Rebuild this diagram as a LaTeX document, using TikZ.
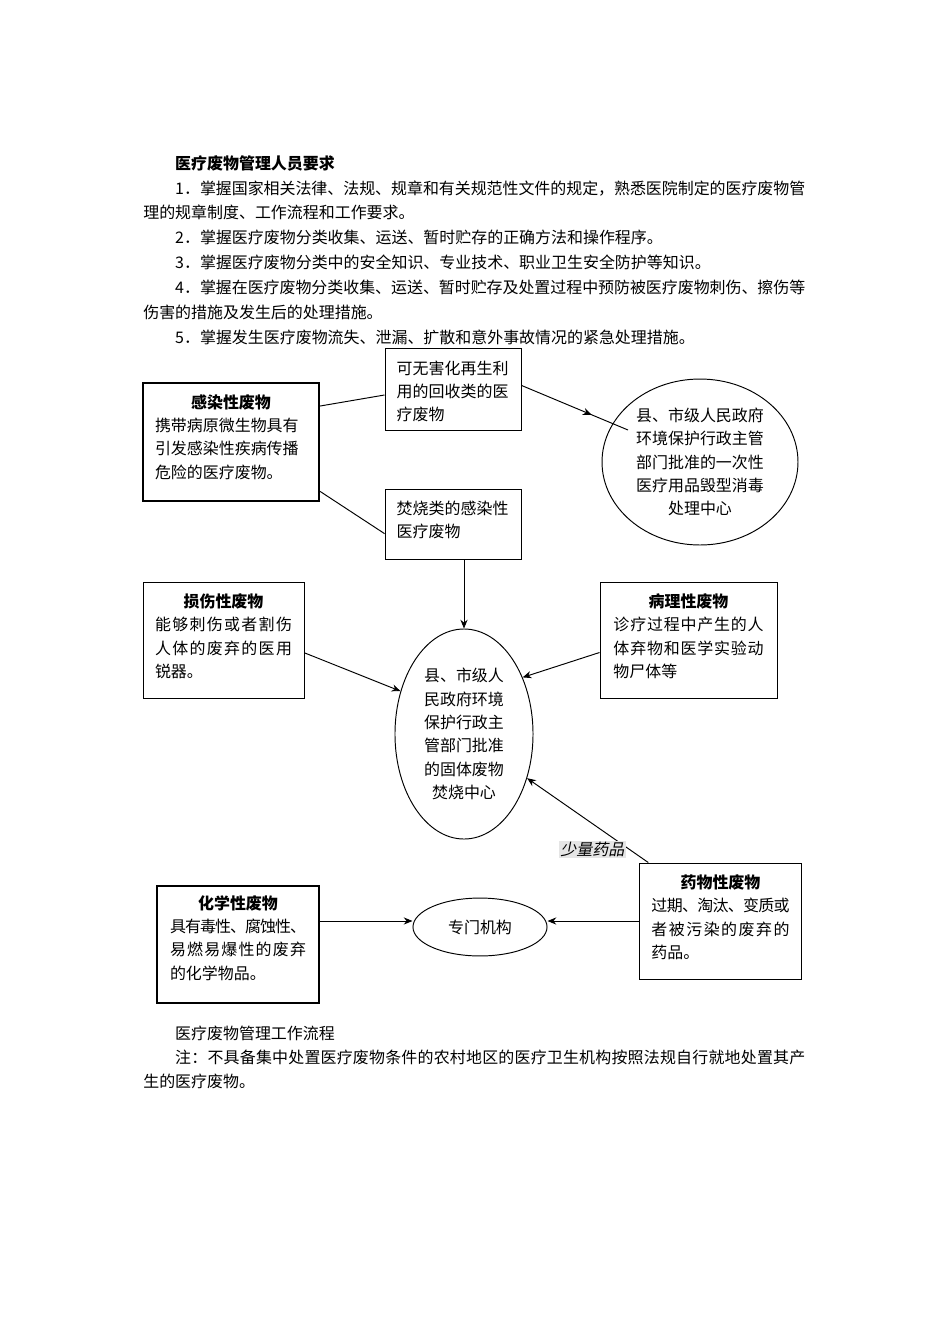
\documentclass[tikz,border=0pt]{standalone}
\usepackage{fontspec}
\setmainfont{Noto Sans CJK SC}[AutoFakeSlant=0.2]
\usetikzlibrary{positioning,shapes.geometric,arrows.meta,decorations.markings}

\newcommand\boxfont{\fontsize{10pt}{14.6pt}\selectfont}
\def\filltoks#1{\ifx\relax#1\else#1\hskip0pt plus1fil minus1pt\relax\expandafter\filltoks\fi}
\newcommand\fillline[2][\linewidth]{\leavevmode\hbox to#1{\filltoks#2\relax\unskip}}
\newcommand\lastline[1]{\makebox[\linewidth][l]{#1}}

\begin{document}
\begin{tikzpicture}[x=0.6266pt,y=-0.6266pt,font=\boxfont]

\tikzset{wbox/.style={draw, line width=0.6pt, inner sep=0pt},
         heavybox/.style={wbox, line width=1.3pt},
         btext/.style={text width=#1, align=center, inner sep=0pt},
         oval/.style={draw, ellipse, line width=0.6pt, inner sep=0pt, align=center},
         link/.style={line width=0.6pt},
         arr/.style={link, -{Stealth[length=5.5pt,width=4.5pt]}}}

\fill[white] (0,0) rectangle (950,1344);
\useasboundingbox (0,0) rectangle (950,1344);

\node[anchor=north west, inner sep=0pt, text width=414.8pt, align=left,
      font=\fontsize{10pt}{15.6pt}\selectfont] (req) at (143,155) {%
\hspace*{2em}\textbf{医疗废物管理人员要求}\\
\hspace*{2em}\fillline[394.8pt]{1．掌握国家相关法律、法规、规章和有关规范性文件的规定，熟悉医院制定的医疗废物管}\\
理的规章制度、工作流程和工作要求。\\
\hspace*{2em}2．掌握医疗废物分类收集、运送、暂时贮存的正确方法和操作程序。\\
\hspace*{2em}3．掌握医疗废物分类中的安全知识、专业技术、职业卫生安全防护等知识。\\
\hspace*{2em}\fillline[394.8pt]{4．掌握在医疗废物分类收集、运送、暂时贮存及处置过程中预防被医疗废物刺伤、擦伤等}\\
伤害的措施及发生后的处理措施。\\
\hspace*{2em}5．掌握发生医疗废物流失、泄漏、扩散和意外事故情况的紧急处理措施。};

% waste boxes
\node[heavybox, minimum width=110.3pt, minimum height=73.9pt] (infect) at (231,442) {};
\node[btext=95.2pt, below=7.5pt of infect.north] (infect-t) {\textbf{感染性废物}\\
  \lastline{携带病原微生物具有}\\ \lastline{引发感染性疾病传播}\\ \lastline{危险的医疗废物。}};

\node[wbox, minimum width=85.2pt, minimum height=51.4pt] (reuse) at (453,389) {};
\node[btext=70.5pt, align=left, below=8.1pt of reuse.north] (reuse-t) {可无害化再生利\\用的回收类的医\\疗废物};

\node[wbox, minimum width=85.2pt, minimum height=43.9pt] (burn) at (453,524) {};
\node[btext=70.5pt, align=left, below=7.5pt of burn.north] (burn-t) {焚烧类的感染性\\医疗废物};

\node[wbox, minimum width=100.9pt, minimum height=72.7pt] (sharp) at (223.5,640) {};
\node[btext=85.8pt, below=7.5pt of sharp.north] (sharp-t) {\textbf{损伤性废物}\\
  \fillline{能够刺伤或者割伤}\\ \fillline{人体的废弃的医用}\\ \lastline{锐器。}};

\node[wbox, minimum width=110.9pt, minimum height=72.7pt] (patho) at (688.5,640) {};
\node[btext=94pt, below=7.5pt of patho.north] (patho-t) {\textbf{病理性废物}\\
  \fillline{诊疗过程中产生的人}\\ \fillline{体弃物和医学实验动}\\ \lastline{物尸体等}};

\node[heavybox, minimum width=101.5pt, minimum height=73.3pt] (chem) at (238,944.5) {};
\node[btext=85.2pt, below=6.3pt of chem.north] (chem-t) {\textbf{化学性废物}\\
  \fillline{具有毒性、腐蚀性、}\\ \fillline{易燃易爆性的废弃}\\ \lastline{的化学物品。}};

\node[wbox, minimum width=102.1pt, minimum height=72.7pt] (drug) at (720.5,921) {};
\node[btext=86.5pt, below=7.5pt of drug.north] (drug-t) {\textbf{药物性废物}\\
  \fillline{过期、淘汰、变质或}\\ \fillline{者被污染的废弃的}\\ \lastline{药品。}};

% disposal sites
\node[oval, minimum width=122.8pt, minimum height=104pt] (disinf) at (700,462)
  {县、市级人民政府\\环境保护行政主管\\部门批准的一次性\\医疗用品毁型消毒\\处理中心};
\node[oval, minimum width=86.5pt, minimum height=131.6pt] (incin) at (464,734)
  {县、市级人\\民政府环境\\保护行政主\\管部门批准\\的固体废物\\焚烧中心};
\node[oval, minimum width=84pt, minimum height=36.3pt] (agency) at (480,927) {专门机构};

\coordinate (disinf-in) at (628,430);

\draw[link] (infect.22) -- (reuse.185);
\draw[link] (infect.-29) -- (burn.188);
\draw[link, postaction={decorate},
      decoration={markings, mark=at position 0.66 with {\arrow{Stealth[length=5.5pt,width=4.5pt]}}}]
  (reuse.3) -- (disinf-in);

\draw[arr] (burn.south -| incin.north) -- (incin.north);
\draw[arr] (sharp.-9) -- (incin.146);
\draw[arr] (patho.188) -- (incin.44);
\draw[arr] (drug.141) -- node[pos=0.155, anchor=east, xshift=-2pt, fill=gray!20, inner sep=1pt,
  font=\boxfont\itshape] (few) {少量药品} (incin.-35);

\draw[arr] (chem.16) -- (chem.16 -| agency.west);
\draw[arr] (drug.west) -- (drug.west -| agency.east);

\node[anchor=north west, inner sep=0pt, text width=414.8pt, align=left,
      font=\fontsize{10pt}{15.04pt}\selectfont] (flow) at (143,1026) {%
\hspace*{2em}医疗废物管理工作流程\\
\hspace*{2em}\fillline[394.8pt]{注：不具备集中处置医疗废物条件的农村地区的医疗卫生机构按照法规自行就地处置其产}\\
生的医疗废物。};

\end{tikzpicture}
\end{document}
